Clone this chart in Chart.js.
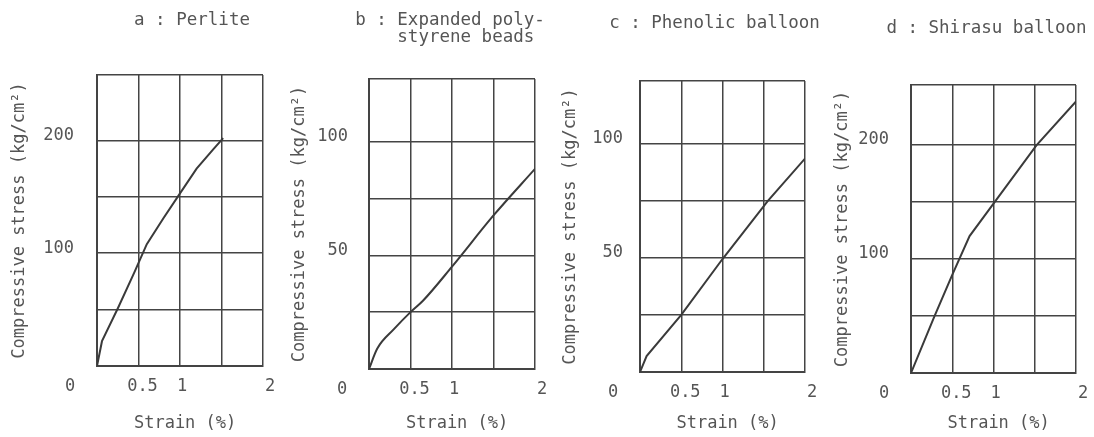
<!DOCTYPE html>
<html>
<head>
<meta charset="utf-8">
<script src="https://cdn.jsdelivr.net/npm/chart.js@4.4.1/dist/chart.umd.min.js"></script>
<style>
  html, body { margin: 0; padding: 0; background: #fff; }
  #wrap { position: relative; width: 1094px; height: 437px; overflow: hidden; }
  .panel { position: absolute; top: 0; height: 437px; }
</style>
</head>
<body>
<div id="wrap">
  <div class="panel" style="left:0px;width:290px"><canvas id="chartA"></canvas></div>
  <div class="panel" style="left:280px;width:280px"><canvas id="chartB"></canvas></div>
  <div class="panel" style="left:550px;width:280px"><canvas id="chartC"></canvas></div>
  <div class="panel" style="left:822px;width:272px"><canvas id="chartD"></canvas></div>
</div>
<script>
// strain (%) vs compressive stress (kg/cm2)
const perliteStrain = [0, 0.06, 0.25, 0.45, 0.6, 0.8, 1.0, 1.2, 1.4, 1.52];
const perliteStress = [0, 22, 51, 83, 108, 131, 153, 175, 192, 202];

const beadsStrain = [0, 0.1, 0.3, 0.5, 0.65, 1.0, 1.5, 2.0];
const beadsStress = [0, 9, 17.5, 25, 30, 45, 67.5, 88];

const phenolicStrain = [0, 0.08, 0.5, 1.0, 1.55, 2.0];
const phenolicStress = [0, 7, 25, 49.5, 75, 93.5];

const shirasuStrain = [0, 0.28, 0.5, 0.71, 1.0, 1.52, 2.0];
const shirasuStress = [0, 49, 86, 120, 148.5, 199.5, 238];

// axis ticks (the frame top sits a little above the last grid line)
const strainGrid = [0, 0.5, 1, 1.5, 2];
const strainTickValues = [0, 0.5, 1, 2];
const strainTickLabels = ['0', '0.5', '1', '2'];
const stressGridHigh = [0, 50, 100, 150, 200];
const stressGridLow = [0, 25, 50, 75, 100];
const stressLabelsHigh = [100, 200];
const stressLabelsLow = [50, 100];

const titleA = ['a : Perlite'];
const titleB = ['b : Expanded poly-', '    styrene beads '];
const titleC = ['c : Phenolic balloon'];
const titleD = ['d : Shirasu balloon'];
const xTitle = ' Strain (%)';
const yTitle = 'Compressive stress (kg/cm\u00b2)';

const FONT = 'DejaVu Sans Mono';
const TEXT = '#555';
const INK = '#444';
const labelShift = [-27, 4, 2, 7];

// x tick labels sit a bit off the grid lines in the original, plus the panel heading
const panelText = {
  id: 'panelText',
  afterDraw(chart, args, opts) {
    const {ctx, chartArea, scales} = chart;
    ctx.save();
    ctx.fillStyle = TEXT;
    ctx.textAlign = 'center';
    ctx.textBaseline = 'middle';
    ctx.font = '17px "' + FONT + '"';
    strainTickValues.forEach((v, i) => {
      ctx.fillText(strainTickLabels[i], scales.x.getPixelForValue(v) + labelShift[i], chartArea.bottom + 21);
    });
    ctx.font = '17.5px "' + FONT + '"';
    const cx = (chartArea.left + chartArea.right) / 2 + opts.dx;
    opts.lines.forEach((line, i) => {
      ctx.fillText(line, cx, opts.y + i * 17.5);
    });
    ctx.restore();
  }
};

function makeChart(id, p) {
  const pts = p.strain.map((s, i) => ({x: s, y: p.stress[i]}));
  const yGrid = p.grid.concat([p.ymax]);
  return new Chart(document.getElementById(id), {
    type: 'line',
    data: {
      datasets: [{
        data: pts,
        borderColor: '#3a3a3a',
        borderWidth: 2,
        pointRadius: 0,
        tension: 0,
        cubicInterpolationMode: p.smooth ? 'monotone' : 'default',
        fill: false
      }]
    },
    options: {
      responsive: true,
      maintainAspectRatio: false,
      animation: false,
      events: [],
      layout: {padding: {left: 0, right: p.padRight, top: p.boxTop, bottom: 0}},
      plugins: {
        legend: {display: false},
        tooltip: {enabled: false},
        title: {display: false},
        panelText: {lines: p.title, dx: p.titleDx, y: p.titleY}
      },
      scales: {
        x: {
          type: 'linear',
          min: 0,
          max: 2,
          afterBuildTicks: s => { s.ticks = strainGrid.map(v => ({value: v})); },
          afterFit: s => { s.height = p.xHeight; },
          ticks: {display: false},
          grid: {color: INK, lineWidth: 1.5, drawTicks: false},
          border: {color: INK, width: 2},
          title: {
            display: true,
            text: xTitle,
            color: TEXT,
            font: {family: FONT, size: 17, lineHeight: 1},
            padding: {top: 0, bottom: 5}
          }
        },
        y: {
          type: 'linear',
          min: 0,
          max: p.ymax,
          afterBuildTicks: s => { s.ticks = yGrid.map(v => ({value: v})); },
          afterFit: s => { s.width = p.yWidth; },
          ticks: {
            color: TEXT,
            font: {family: FONT, size: 17},
            padding: p.tickPad,
            labelOffset: -5,
            autoSkip: false,
            callback: v => p.labels.includes(v) ? String(v) : ''
          },
          grid: {color: INK, lineWidth: 1.5, drawTicks: false},
          border: {color: INK, width: 2},
          title: {
            display: true,
            text: yTitle,
            color: TEXT,
            font: {family: FONT, size: 17, lineHeight: 1},
            padding: {top: p.yTitlePad, bottom: 0}
          }
        }
      }
    },
    plugins: [panelText]
  });
}

makeChart('chartA', {
  strain: perliteStrain, stress: perliteStress, title: titleA, smooth: false,
  grid: stressGridHigh, labels: stressLabelsHigh, ymax: 258,
  yWidth: 97, padRight: 27, xHeight: 71, boxTop: 75, titleY: 20, titleDx: 12,
  tickPad: 23, yTitlePad: 11.5
});
makeChart('chartB', {
  strain: beadsStrain, stress: beadsStress, title: titleB, smooth: true,
  grid: stressGridLow, labels: stressLabelsLow, ymax: 127.5,
  yWidth: 89, padRight: 25, xHeight: 68, boxTop: 79, titleY: 20, titleDx: -2,
  tickPad: 21, yTitlePad: 11.5
});
makeChart('chartC', {
  strain: phenolicStrain, stress: phenolicStress, title: titleC, smooth: false,
  grid: stressGridLow, labels: stressLabelsLow, ymax: 127.5,
  yWidth: 90, padRight: 25, xHeight: 65, boxTop: 81, titleY: 23, titleDx: -8,
  tickPad: 17, yTitlePad: 12.5
});
makeChart('chartD', {
  strain: shirasuStrain, stress: shirasuStress, title: titleD, smooth: false,
  grid: stressGridHigh, labels: stressLabelsHigh, ymax: 252.5,
  yWidth: 89, padRight: 18, xHeight: 64, boxTop: 85, titleY: 28, titleDx: -7,
  tickPad: 22, yTitlePad: 12.5
});
</script>
</body>
</html>
